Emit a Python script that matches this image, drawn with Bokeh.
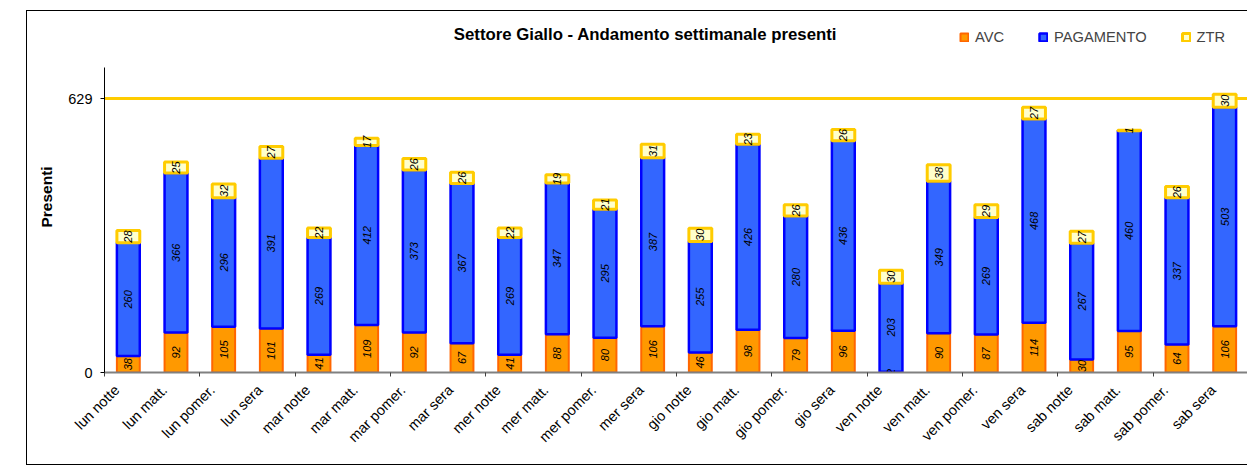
import math
from bokeh.plotting import figure
from bokeh.models import (ColumnDataSource, Range1d, FixedTicker, Span, Label,
                          Legend, LegendItem)
from bokeh.core.properties import value
from bokeh.embed import file_html
from bokeh.resources import INLINE

# ---- data ----
categories = ["lun notte", "lun matt.", "lun pomer.", "lun sera",
              "mar notte", "mar matt.", "mar pomer.", "mar sera",
              "mer notte", "mer matt.", "mer pomer.", "mer sera",
              "gio notte", "gio matt.", "gio pomer.", "gio sera",
              "ven notte", "ven matt.", "ven pomer.", "ven sera",
              "sab notte", "sab matt.", "sab pomer.", "sab sera"]
avc = [38, 92, 105, 101, 41, 109, 92, 67, 41, 88, 80, 106,
       46, 98, 79, 96, 2, 90, 87, 114, 30, 95, 64, 106]
pagamento = [260, 366, 296, 391, 269, 412, 373, 367, 269, 347, 295, 387,
             255, 426, 280, 436, 203, 349, 269, 468, 267, 460, 337, 503]
ztr = [28, 25, 32, 27, 22, 17, 26, 26, 22, 19, 21, 31,
       30, 23, 26, 26, 30, 38, 29, 27, 27, 1, 26, 30]
target = 629
y_ticks = [0, 629]
title_text = "Settore Giallo - Andamento settimanale presenti"
y_label = "Presenti"

FONT = "Liberation Sans"

n = len(categories)
xs = [i + 0.5 for i in range(n)]
b1 = [0] * n
t1 = avc
b2 = t1
t2 = [a + b for a, b in zip(avc, pagamento)]
b3 = t2
t3 = [a + b for a, b in zip(t2, ztr)]

src = ColumnDataSource(dict(
    x=xs, b1=b1, t1=t1, b2=b2, t2=t2, b3=b3, t3=t3,
    m1=[(a + b) / 2 for a, b in zip(b1, t1)],
    m2=[(a + b) / 2 for a, b in zip(b2, t2)],
    m3=[(a + b) / 2 for a, b in zip(b3, t3)],
    l1=[str(v) for v in avc], l2=[str(v) for v in pagamento],
    l3=[str(v) for v in ztr],
))

p = figure(width=1221, height=455, output_backend="svg", toolbar_location=None,
           x_range=Range1d(0, n), y_range=Range1d(0, 805.8),
           min_border_left=77, min_border_right=0, min_border_top=10,
           min_border_bottom=94, margin=(10, 0, 0, 26))
p.styles = {"border-left": "1px solid black", "border-top": "1px solid black",
            "border-bottom": "1px solid black"}
p.xgrid.grid_line_color = None
p.ygrid.grid_line_color = None
p.outline_line_color = None
p.background_fill_color = "white"
p.border_fill_color = "white"

# target line
p.add_layout(Span(location=target, dimension="width", line_color="#FFCC00",
                  line_width=3, level="underlay"))

w = 0.48
r1 = p.vbar(x="x", bottom="b1", top="t1", width=w, source=src,
            fill_color="#FF9900", line_color="#FF6600", line_width=2)
r2 = p.vbar(x="x", bottom="b2", top="t2", width=w, source=src,
            fill_color="#3366FF", line_color="#0000FF", line_width=2.5)
r3 = p.vbar(x="x", bottom="b3", top="t3", width=w, source=src,
            fill_color="#FFFFCC", line_color="#FFCC00", line_width=3)

for m, l in (("m1", "l1"), ("m2", "l2"), ("m3", "l3")):
    p.text(x="x", y=m, text=l, source=src, angle=math.pi / 2,
           text_align="center", text_baseline="middle",
           text_font=value(FONT), text_font_style="italic",
           text_font_size="11px", text_color="black")

# axes
p.yaxis.ticker = FixedTicker(ticks=y_ticks)
p.yaxis.bounds = (0, 700)
p.yaxis.axis_line_color = "black"
p.yaxis.major_tick_line_color = "black"
p.yaxis.major_tick_out = 4
p.yaxis.major_tick_in = 0
p.yaxis.minor_tick_line_color = None
p.yaxis.major_label_text_font = FONT
p.yaxis.major_label_text_font_size = "14.5px"
p.yaxis.major_label_text_color = "black"
p.yaxis.major_label_standoff = 8
p.yaxis.axis_label = y_label
p.yaxis.axis_label_text_font = FONT
p.yaxis.axis_label_text_font_style = "bold"
p.yaxis.axis_label_text_font_size = "15.5px"
p.yaxis.axis_label_text_color = "black"
p.yaxis.axis_label_standoff = 10

label_pos = [x - 0.24 for x in xs]
p.xaxis.ticker = FixedTicker(ticks=label_pos, minor_ticks=list(range(0, n + 1, 2)))
p.xaxis.major_label_overrides = {x: c for x, c in zip(label_pos, categories)}
p.xaxis.major_label_orientation = math.pi / 4
p.xaxis.major_tick_line_color = None
p.xaxis.major_tick_out = 0
p.xaxis.major_tick_in = 0
p.xaxis.minor_tick_line_color = "#404040"
p.xaxis.minor_tick_out = 4
p.xaxis.minor_tick_in = 0
p.xaxis.axis_line_color = "#808080"
p.xaxis.axis_line_width = 2
p.xaxis.major_label_text_font = FONT
p.xaxis.major_label_text_font_size = "14.5px"
p.xaxis.major_label_text_color = "black"
p.xaxis.major_label_standoff = 11

# title
p.add_layout(Label(x=(644 - 103) / 47.67, y=775, text=title_text,
                   text_font=FONT, text_font_style="bold", text_font_size="16.8px",
                   text_align="center", text_baseline="middle", text_color="black"))

legend = Legend(items=[LegendItem(label="AVC", renderers=[r1]),
                       LegendItem(label="PAGAMENTO", renderers=[r2]),
                       LegendItem(label="ZTR", renderers=[r3])],
                orientation="horizontal", location=(855, 327),
                glyph_width=10, glyph_height=10, label_height=14,
                label_standoff=6, spacing=34, padding=0, margin=0,
                border_line_color=None, background_fill_alpha=0,
                label_text_font=FONT, label_text_font_size="14.7px")
p.add_layout(legend)

open("out.html", "w").write(file_html(p, INLINE))
